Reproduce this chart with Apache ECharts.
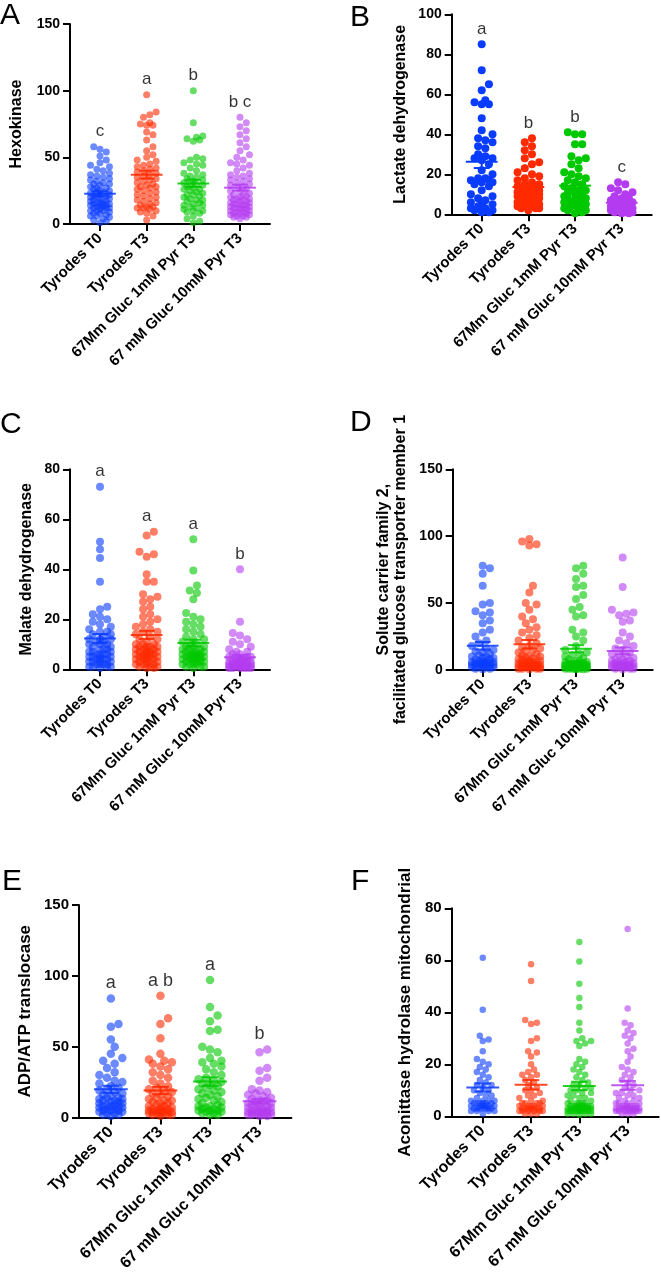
<!DOCTYPE html>
<html>
<head>
<meta charset="utf-8">
<script src="https://cdn.jsdelivr.net/npm/echarts@6/dist/echarts.min.js"></script>
<style>
  html, body { margin: 0; padding: 0; background: #fff; }
  #chart { width: 661px; height: 1277px; }
</style>
</head>
<body>
<div id="chart"></div>
<script>
// group names + colours (same in every panel)
var groupNames = ['Tyrodes T0', 'Tyrodes T3', '67Mm Gluc 1mM Pyr T3', '67 mM Gluc 10mM Pyr T3'];
var groupColors = ['#0a3cff', '#ff2a00', '#00c800', '#b43cf0'];

// A - Hexokinase
var hkT0 = [58,56,54,51,48,46,44,43,41,40,38,37,36,35,34,33,32,31,30,30,29,28,27,27,26,25,25,24,24,23,22,22,21,21,20,20,19,19,18,18,17,17,16,16,15,15,14,14,13,13,12,12,11,10,10,9,8,7,6,5,4,3,2,1,8,12,15,6,10,14];
var hkT3 = [97,84,82,80,76,75,74,74,69,67,63,58,55,52,50,48,47,45,44,43,42,41,40,39,38,37,36,35,34,33,32,31,30,29,28,28,27,26,25,24,23,22,21,20,19,18,17,16,15,14,13,13,12,12,11,10,9,8,6,3];
var hkG1 = [100,76,66,65,64,63,62,50,49,48,46,45,44,42,40,38,37,36,35,34,33,32,31,30,30,29,28,27,26,25,24,23,22,21,20,19,18,17,16,15,14,13,12,11,10,9,8,6,4,2,1,18,22,10,26,14];
var hkG10 = [80,76,73,70,67,64,61,58,55,52,50,48,46,45,44,42,40,38,37,36,35,34,33,32,31,30,29,28,27,26,25,24,23,22,21,20,19,18,17,16,15,14,13,12,11,10,9,8,7,6,5,4,5,8,12,15,18,20,10,14,6,9,16,13,11,7,17,19,12,22,14,8];
var hkLetters = ['c', 'a', 'b', 'b c'];

// B - Lactate dehydrogenase
var ldT0 = [85,72,65,62,57,56,55,55,48,42,40,38,37,36,34,33,30,29,28,28,27,25,22,20,18,17,17,16,15,14,12,10,9,8,7,6,5,5,4,3,3,2,2,1,1,18,16];
var ldT3 = [38,36,34,32,30,28,26,25,23,21,20,19,18,17,16,15,15,14,14,13,13,12,12,11,11,10,10,9,9,8,8,7,7,6,6,5,5,4,4,3,3,2,3,5,6,8,9,10,11,12];
var ldG1 = [41,40,40,35,35,29,28,27,25,23,21,20,19,18,17,16,15,14,13,12,12,11,10,10,9,8,8,7,6,6,5,5,4,3,2,1,0.5,4,6,3,8,2,5,7];
var ldG10 = [16,15,13,12,11,10,9,8,8,7,7,6,6,5,5,5,4,4,4,3,3,3,2,2,2,1,1,1,0.5,0.5];
var ldLetters = ['a', 'b', 'b', 'c'];

// C - Malate dehydrogenase
var mdT0 = [73,51,48,44.5,35,25,24,22,21,20,19,18,17,16,15,15,14,14,13,12,12,11,10,10,9,8,8,7,6,6,5,5,4,4,3,3,2,2,1,1,0.5,12,11,10,9,8,7,6,5,4,3,2,1,7,5,3,4,2,6,1];
var mdT3 = [55,53.5,47,46,45,38,35,35,30,29,28,27,25,24,22,21,20,19,18,17,16,15,15,14,13,12,12,11,10,10,9,9,8,8,7,7,6,6,5,5,4,4,3,3,2,2,1,1,0.5,0.5,3,5,7,9,4,6,8,2,1,10,5,3,7,6,4,8,2,5,9,6];
var mdG1 = [52,39.5,33.5,31.5,30.5,28,22.5,21,20,19,18,17,16,15,14,13,12,12,11,10,10,9,9,8,8,7,7,6,6,5,5,4,4,3,3,2,2,1,1,0.5,3,5,7,2,4,6,8,1,3,5,4,6,2,7,3,5,9,4,6,5];
var mdG10 = [40,19,14.5,13.5,12,11,10,9,8,7,7,6,6,5,5,5,4,4,4,3,3,3,3,2,2,2,2,1.5,1.5,1,1,1,0.5,0.5,0.5,0.5,2,3,1,2,1,2,1.5,0.5,3,1,2,1,0.5,2.5];
var mdLetters = ['a', 'a', 'a', 'b'];

// D - Solute carrier family 2 member 1
var scT0 = [78,76,72,63,50,49,44,43,41,37,35,30,28,25,22,20,18,16,15,14,13,12,11,10,10,9,9,8,8,7,7,6,6,5,5,5,4,4,3,3,2,2,1,1,0.5,4,3,5,6,2,4,3,5];
var scT3 = [98,96,94,93,63,58,50,49,45,40,38,35,32,30,28,26,24,22,20,18,17,16,15,14,13,12,11,10,10,9,9,8,8,7,7,6,6,5,5,4,4,3,3,2,2,1,1,0.5,2,3,4,1,5,3,2,4,3,6,2,3,1,4,2];
var scG1 = [78,76,72,68,63,62,56,53,47,45,41,40,30,28,25,22,18,15,13,12,11,10,9,8,7,7,6,6,5,5,4,4,3,3,2,2,1,1,0.5,0.5,3,2,4,1,5,3,2,4,3,2,1,3,4,2,5,3,1,2,4,3,2,5,3,4,1];
var scG10 = [84,62,45,43,42,41,37,36,28,25,22,20,18,16,15,13,12,11,10,9,8,8,7,7,6,6,5,5,4,4,3,3,2,2,1,1,0.5,3,2,4,1,5,3,2,4,3,2,4,3];

// E - ADP/ATP translocase
var atT0 = [84,66,64,55,50,45,42,40,38,35,32,30,28,26,25,24,22,21,20,19,18,17,16,15,14,14,13,13,12,12,11,11,10,10,9,9,8,8,7,6,5,4,3,2,1,5,7,3,6,4,8,2,5];
var atT3 = [86,70,66,56,45,41,40,39,38,36,34,32,30,28,26,24,22,21,20,19,18,17,16,15,14,13,12,12,11,10,10,9,8,8,7,6,5,5,4,3,2,1,4,3,5,6,2,4,7,3,5,2,4,3];
var atG1 = [97,78,72,68,62,61,50,48,46,42,40,39,38,36,34,32,30,28,27,26,25,24,23,22,21,20,19,18,17,16,15,14,13,12,11,10,9,8,7,6,5,4,3,2,5,6,4,7,3,5,8,2];
var atG10 = [48,46,35,33,28,26,20,19,18,17,16,15,14,13,12,12,11,11,10,10,9,9,8,8,7,7,6,6,5,5,4,4,3,3,2,1,3,2,4,1,3,5,2,4,3,2];
var atLetters = ['a', 'a b', 'a', 'b'];

// F - Aconitase hydrolase mitochondrial
var acT0 = [61,41,31,29.5,29,25,22,21,20,19,18,17,16,15,14,13,12,12,11,10,10,9,8,8,7,6,6,5,5,4,4,3,3,2,1,4,3,5,2,4,6,3,5,4,2,3,5,4,3,3,5,2,6];
var acT3 = [58.5,52,37,36,35.5,30,29,25,24.5,23,20,18,17,16,16,15,14,13,12,11,10,10,9,8,8,7,6,6,5,5,4,4,3,3,2,2,1,1,3,2,4,3,2,5,3,1,4,2,3,4,2,3,5];
var acG1 = [67,59.5,51,45.5,42,36,33,30,29,29,28,27,22,21,20,19,18,17,16,15,14,13,12,12,11,11,10,10,9,9,8,8,7,7,6,6,5,5,4,4,3,3,2,2,1,1,0.5,3,2,4,3,5,2,3,4,1,3,2,4,3,5,2,3,4,3,2,1,3,4,2,3,5,2,3,4,3,2];
var acG10 = [72,41.5,36,35,33,32,31,30,28,26,25,23,21,19,18,17,16,15,14,13,12,11,10,10,9,9,8,8,7,7,6,6,5,5,4,4,3,3,2,2,1,1,3,2,4,3,2,5,3,1,4,2,3,4,2,3,5,2,3,4,3,2];

var FONT = 'Liberation Sans, Arial, Helvetica, sans-serif';
var XMIN = -0.643, XMAX = 3.643;

// panel layout: plot box [left, top, width, height] in px, font sizes [ticks, x labels, title, letters]
var panels = [
    { letter: 'A', title: 'Hexokinase', max: 150, step: 50, groups: [hkT0, hkT3, hkG1, hkG10], marks: hkLetters,
      box: [70, 24, 200, 200], dot: 7, alpha: 0.6, gap: 45, lab: [0, 1], fs: [14, 15, 16, 17] },
    { letter: 'B', title: 'Lactate dehydrogenase', max: 100, step: 20, groups: [ldT0, ldT3, ldG1, ldG10], marks: ldLetters,
      box: [451.7, 14.3, 200, 200], dot: 8, alpha: 1, gap: 43, lab: [350, 3], fs: [14, 15, 16, 17] },
    { letter: 'C', title: 'Malate dehydrogenase', max: 80, step: 20, groups: [mdT0, mdT3, mdG1, mdG10], marks: mdLetters,
      box: [70, 469.3, 200, 200], dot: 8, alpha: 0.6, gap: 35, lab: [0, 410], fs: [14, 15, 16, 17] },
    { letter: 'D', title: 'Solute carrier family 2,\nfacilitated glucose transporter member 1', max: 150, step: 50,
      groups: [scT0, scT3, scG1, scG10], marks: null,
      box: [452.7, 469.3, 200, 200.7], dot: 8, alpha: 0.6, gap: 44, lab: [350, 408], fs: [14, 15, 16, 17] },
    { letter: 'E', title: 'ADP/ATP translocase', max: 150, step: 50, groups: [atT0, atT3, atG1, atG10], marks: atLetters,
      box: [79, 905, 212.4, 212.5], dot: 8.5, alpha: 0.6, gap: 45, lab: [2, 867], fs: [15, 16, 17, 18] },
    { letter: 'F', title: 'Aconittase hydrolase mitochondrial', max: 80, step: 20, groups: [acT0, acT3, acG1, acG10], marks: null,
      box: [451.7, 908.3, 207, 208], dot: 6.5, alpha: 0.6, gap: 37, lab: [351, 867], fs: [15, 16, 17, 18] }
];

// place dots side by side (beeswarm), returns px offsets
function swarm(values, pxY, dotPx, maxHalf) {
    var order = values.map(function (v, i) { return i; })
        .sort(function (a, b) { return values[a] - values[b]; });
    var placed = [];
    var offs = [];
    var d = dotPx * 0.9, step = d / 2;
    var nSteps = Math.floor(maxHalf / step);
    order.forEach(function (i) {
        var y = values[i] * pxY;
        var best = 0, bestScore = -1;
        for (var k = 0; k <= 2 * nSteps; k++) {
            var o = (k % 2 ? 1 : -1) * Math.ceil(k / 2) * step;
            var minD = Infinity;
            placed.forEach(function (p) {
                var dy = p[1] - y;
                if (Math.abs(dy) < d) {
                    var dd = Math.sqrt((p[0] - o) * (p[0] - o) + dy * dy);
                    if (dd < minD) minD = dd;
                }
            });
            if (minD >= d) { best = o; break; }
            if (minD > bestScore) { bestScore = minD; best = o; }
        }
        placed.push([best, y]);
        offs[i] = best;
    });
    return offs;
}

function meanSem(arr) {
    var n = arr.length, m = 0, s = 0;
    arr.forEach(function (v) { m += v; });
    m /= n;
    arr.forEach(function (v) { s += (v - m) * (v - m); });
    return [m, Math.sqrt(s / (n - 1)) / Math.sqrt(n)];
}

var grids = [], xAxes = [], yAxes = [], series = [], graphics = [];

panels.forEach(function (p, pi) {
    var b = p.box;
    grids.push({ left: b[0], top: b[1], width: b[2], height: b[3] });
    var pxX = b[2] / (XMAX - XMIN);
    var pxY = b[3] / p.max;

    xAxes.push({
        gridIndex: pi, type: 'value', min: XMIN, max: XMAX,
        axisLine: { onZero: false, lineStyle: { color: '#000', width: 2 } },
        axisTick: { customValues: [0, 1, 2, 3], length: 7, lineStyle: { color: '#000', width: 2 } },
        axisLabel: {
            customValues: [0, 1, 2, 3], rotate: 45, margin: 12,
            formatter: function (v) { return groupNames[Math.round(v)]; },
            color: '#000', fontSize: p.fs[1], fontWeight: 'bold', fontFamily: FONT
        },
        splitLine: { show: false }
    });
    yAxes.push({
        gridIndex: pi, type: 'value', min: 0, max: p.max, interval: p.step,
        axisLine: { show: true, onZero: false, lineStyle: { color: '#000', width: 2 } },
        axisTick: { show: true, length: 7, lineStyle: { color: '#000', width: 2 } },
        axisLabel: { color: '#000', fontSize: p.fs[0], fontWeight: 'bold', fontFamily: FONT, margin: 10 },
        splitLine: { show: false },
        name: p.title, nameLocation: 'middle', nameGap: p.gap,
        nameTextStyle: { color: '#000', fontSize: p.fs[2], fontWeight: 'bold', fontFamily: FONT, lineHeight: p.fs[2] + 1 }
    });

    var stats = [];
    p.groups.forEach(function (vals, g) {
        var offs = swarm(vals, pxY, p.dot, 0.27 * pxX);
        series.push({
            type: 'scatter', xAxisIndex: pi, yAxisIndex: pi,
            symbolSize: p.dot, silent: true,
            itemStyle: { color: groupColors[g], opacity: p.alpha },
            data: vals.map(function (v, i) { return [g + offs[i] / pxX, v]; })
        });
        var ms = meanSem(vals);
        stats.push([g, ms[0], ms[1], Math.max.apply(null, vals)]);
    });

    // mean line + SEM whiskers
    series.push({
        type: 'custom', xAxisIndex: pi, yAxisIndex: pi, z: 5, silent: true,
        data: stats,
        renderItem: function (params, api) {
            var g = api.value(0), m = api.value(1), s = api.value(2);
            var c = api.coord([g, m]), lo = api.coord([g, m - s]), hi = api.coord([g, m + s]);
            var w = 0.34 * pxX, cw = 0.17 * pxX;
            var st = { stroke: groupColors[g], lineWidth: 2, opacity: p.alpha < 1 ? 0.85 : 1 };
            return {
                type: 'group', children: [
                    { type: 'line', shape: { x1: c[0] - w, y1: c[1], x2: c[0] + w, y2: c[1] }, style: st },
                    { type: 'line', shape: { x1: c[0], y1: lo[1], x2: c[0], y2: hi[1] }, style: st },
                    { type: 'line', shape: { x1: c[0] - cw, y1: lo[1], x2: c[0] + cw, y2: lo[1] }, style: st },
                    { type: 'line', shape: { x1: c[0] - cw, y1: hi[1], x2: c[0] + cw, y2: hi[1] }, style: st }
                ]
            };
        }
    });

    // significance letters above the top dot of each group
    if (p.marks) {
        series.push({
            type: 'scatter', xAxisIndex: pi, yAxisIndex: pi, symbolSize: 1, silent: true,
            itemStyle: { color: 'rgba(0,0,0,0)' },
            label: {
                show: true, position: 'inside', offset: [0, -15],
                formatter: function (prm) { return p.marks[prm.dataIndex]; },
                color: '#000', fontSize: p.fs[3], fontFamily: FONT
            },
            data: stats.map(function (s) { return [s[0], s[3]]; })
        });
    }

    graphics.push({
        type: 'text', left: p.lab[0], top: p.lab[1],
        style: { text: p.letter, fontSize: 30, fontFamily: FONT, fill: '#000' }
    });
});

var myChart = echarts.init(document.getElementById('chart'), null, { renderer: 'canvas' });
myChart.setOption({
    backgroundColor: '#fff',
    animation: false,
    grid: grids,
    xAxis: xAxes,
    yAxis: yAxes,
    series: series,
    graphic: graphics
});
</script>
</body>
</html>
